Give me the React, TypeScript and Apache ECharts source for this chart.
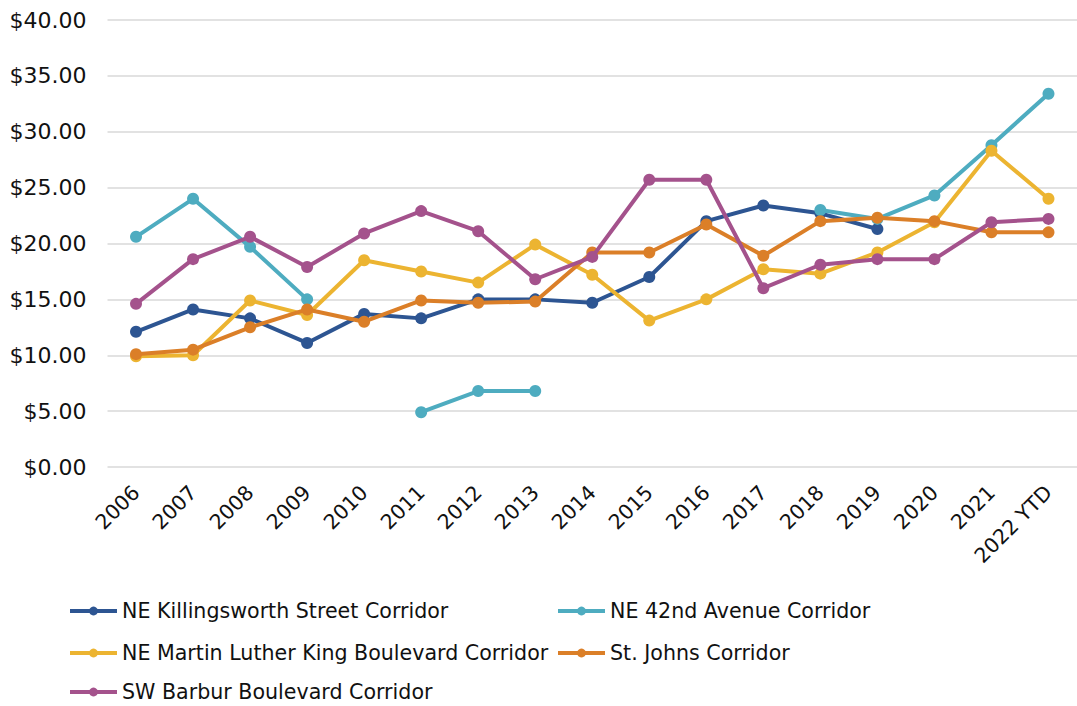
import React, { useEffect, useRef } from "react";
import * as echarts from "echarts";

const categories = ["2006", "2007", "2008", "2009", "2010", "2011", "2012", "2013", "2014", "2015", "2016", "2017", "2018", "2019", "2020", "2021", "2022 YTD"];

const seriesNames = [
  "NE Killingsworth Street Corridor",
  "NE 42nd Avenue Corridor",
  "NE Martin Luther King Boulevard Corridor",
  "St. Johns Corridor",
  "SW Barbur Boulevard Corridor",
];

const killingsworth = [12.1, 14.1, 13.3, 11.1, 13.7, 13.3, 15.0, 15.0, 14.7, 17.0, 22.0, 23.4, 22.7, 21.3, null, null, null];
const ne42nd = [20.6, 24.0, 19.7, 15.0, null, 4.9, 6.8, 6.8, null, null, null, null, 23.0, 22.2, 24.3, 28.8, 33.4];
const mlk = [9.9, 10.0, 14.9, 13.6, 18.5, 17.5, 16.5, 19.9, 17.2, 13.1, 15.0, 17.7, 17.3, 19.2, 21.9, 28.3, 24.0];
const stJohns = [10.1, 10.5, 12.5, 14.1, 13.0, 14.9, 14.7, 14.8, 19.2, 19.2, 21.7, 18.9, 22.0, 22.3, 22.0, 21.0, 21.0];
const barbur = [14.6, 18.6, 20.6, 17.9, 20.9, 22.9, 21.1, 16.8, 18.8, 25.7, 25.7, 16.0, 18.1, 18.6, 18.6, 21.9, 22.2];

const seriesData = [killingsworth, ne42nd, mlk, stJohns, barbur];
const colors = ["#2D5592", "#4EACC0", "#ECB431", "#DB7F28", "#A4528C"];

const yTicks = { min: 0, max: 40, interval: 5 };

const FONT = "DejaVu Sans";

export default function App() {
  const ref = useRef<HTMLDivElement>(null);

  useEffect(() => {
    if (!ref.current) return;
    const chart = echarts.init(ref.current, undefined, { renderer: "svg" });

    const legendPos = [
      { left: 68, top: 599 },
      { left: 556, top: 599 },
      { left: 68, top: 641 },
      { left: 556, top: 641 },
      { left: 68, top: 680 },
    ];

    chart.setOption({
      animation: false,
      backgroundColor: "#ffffff",
      color: colors,
      grid: { left: 107.5, top: 20, width: 977, height: 447, containLabel: false },
      legend: seriesNames.map((name, i) => ({
        data: [name],
        left: legendPos[i].left,
        top: legendPos[i].top,
        padding: 0,
        itemWidth: 47,
        itemHeight: 11,
        lineStyle: { width: 4 },
        textStyle: { fontFamily: FONT, fontSize: 20.6, color: "#111", lineHeight: 24 },
      })),
      xAxis: {
        type: "category",
        data: categories,
        boundaryGap: true,
        axisLine: { show: false },
        axisTick: { show: false },
        axisLabel: {
          interval: 0,
          rotate: 45,
          margin: 22,
          fontFamily: FONT,
          fontSize: 20.5,
          color: "#111",
        },
      },
      yAxis: {
        type: "value",
        min: yTicks.min,
        max: yTicks.max,
        interval: yTicks.interval,
        axisLine: { show: false },
        axisTick: { show: false },
        axisLabel: {
          margin: 21,
          fontFamily: FONT,
          fontSize: 22,
          color: "#111",
          formatter: (v: number) => "$" + v.toFixed(2),
        },
        splitLine: { show: true, lineStyle: { color: "#D9D9D9", width: 1.5 } },
      },
      series: seriesNames.map((name, i) => ({
        name,
        type: "line",
        data: seriesData[i],
        connectNulls: false,
        symbol: "circle",
        symbolSize: 12,
        lineStyle: { width: 4, color: colors[i] },
        itemStyle: { color: colors[i] },
        z: 2 + i,
      })),
    });

    return () => chart.dispose();
  }, []);

  return (
    <div
      ref={ref}
      style={{ position: "absolute", left: 0, top: 0, width: 1077, height: 706 }}
    />
  );
}
